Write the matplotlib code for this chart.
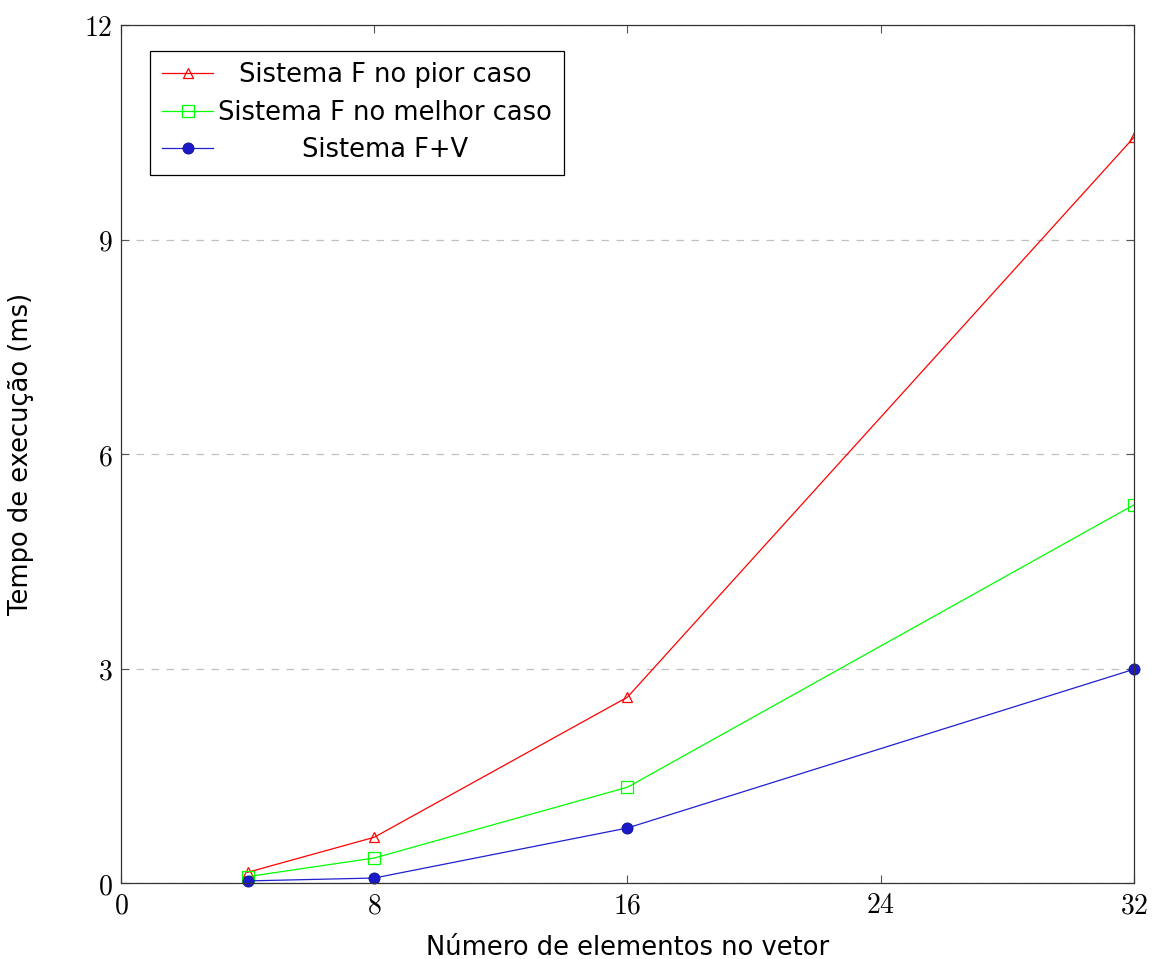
import matplotlib
matplotlib.use("Agg")
import matplotlib.pyplot as plt

x = [4, 8, 16, 32]
pior = [0.15, 0.64, 2.60, 10.43]
melhor = [0.09, 0.35, 1.34, 5.29]
fv = [0.03, 0.07, 0.77, 2.99]
labels = ["Sistema F no pior caso", "Sistema F no melhor caso", "Sistema F+V"]
xticks = [0, 8, 16, 24, 32]
yticks = [0, 3, 6, 9, 12]

plt.rcParams['mathtext.fontset'] = 'cm'
plt.rcParams['font.family'] = ['DejaVu Sans']

fig = plt.figure(figsize=(11.53, 9.59), dpi=100)
ax = fig.add_axes([0.1049, 0.0792, 0.8786, 0.8947])

ax.plot(x, pior, color='#ff0000', lw=0.9, marker='^', ms=7, mfc='none', mec='#ff0000', mew=0.9, label=labels[0])
ax.plot(x, melhor, color='#00ff00', lw=0.9, marker='s', ms=8, mfc='none', mec='#00ff00', mew=0.9, label=labels[1])
ax.plot(x, fv, color='#2020d0', lw=0.9, marker='o', ms=8, mfc='#1a1ac8', mec='#101090', mew=0.6, label=labels[2], clip_on=False)

ax.set_xlim(0, 32)
ax.set_ylim(0, 12)
ax.set_xticks(xticks)
ax.set_yticks(yticks)
ax.set_xticklabels([f"${v}$" for v in xticks], fontsize=20)
ax.set_yticklabels([f"${v}$" for v in yticks], fontsize=20)
ax.tick_params(direction='in', top=True, right=True, length=6, width=0.8, color='#555555', pad=6)
for s in ax.spines.values():
    s.set_linewidth(0.9)
    s.set_color('#333333')
ax.yaxis.grid(True, linestyle=(0, (6, 6)), color='#c0c0c0', lw=0.9)
ax.set_axisbelow(True)

ax.set_xlabel("Número de elementos no vetor", fontsize=18.5, labelpad=11)
ax.set_ylabel("Tempo de execução (ms)", fontsize=18.5, labelpad=36)

leg = ax.legend(loc='upper left', bbox_to_anchor=(0.029, 0.97), fontsize=18.5, frameon=True,
                fancybox=False, edgecolor='black', framealpha=1, handlelength=2.0,
                handletextpad=0.2, borderpad=0.45, labelspacing=0.45, borderaxespad=0)
leg.get_frame().set_linewidth(0.9)
# center legend texts like pgfplots
fig.canvas.draw()
r = fig.canvas.get_renderer()
texts = leg.get_texts()
ws = [t.get_window_extent(r).width for t in texts]
wmax = max(ws)
from matplotlib.transforms import ScaledTranslation
for t, w in zip(texts, ws):
    dx = (wmax - w) / 2 / fig.dpi
    t.set_transform(t.get_transform() + ScaledTranslation(dx, 0, fig.dpi_scale_trans))

fig.savefig("out.png", dpi=100)
